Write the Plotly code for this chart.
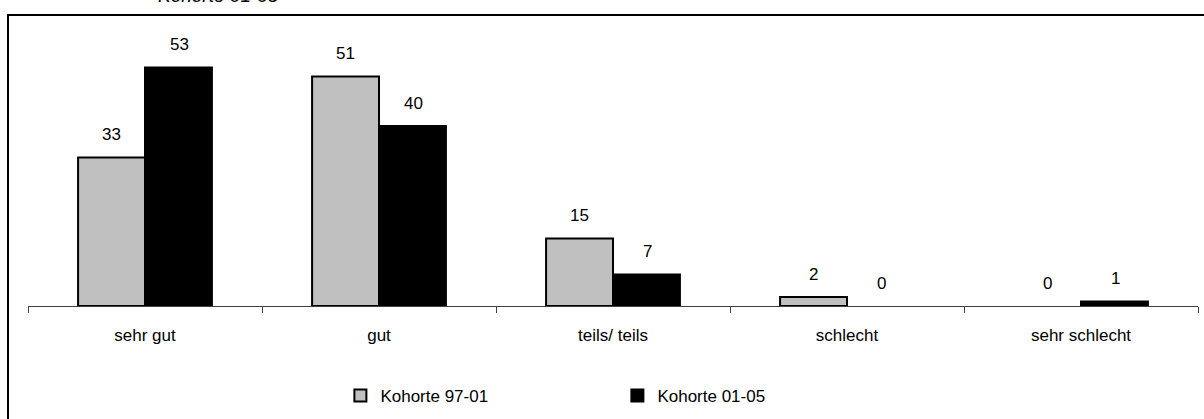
import plotly.graph_objects as go

categories = ["sehr gut", "gut", "teils/ teils", "schlecht", "sehr schlecht"]
series_names = ["Kohorte 97-01", "Kohorte 01-05"]
values_9701 = [33, 51, 15, 2, 0]
values_0105 = [53, 40, 7, 0, 1]
title_text = "Kohorte 01-05"

FONT = "Liberation Sans, Arial, sans-serif"

# plot area on screen: x 28..1198, y 36..307
fig = go.Figure()
fig.add_trace(go.Bar(
    x=categories, y=values_9701, name=series_names[0],
    marker=dict(color="#c0c0c0",
                line=dict(color="black", width=[2 if v > 0 else 0 for v in values_9701])),
))
fig.add_trace(go.Bar(
    x=categories, y=values_0105, name=series_names[1],
    marker=dict(color="black",
                line=dict(color="black", width=[2 if v > 0 else 0 for v in values_0105])),
))

annotations = []
for vals, shift in ((values_9701, -34), (values_0105, 34)):
    for c, v in zip(categories, vals):
        annotations.append(dict(
            x=c, y=v, xref="x", yref="y", text=str(v), showarrow=False,
            xshift=shift, yshift=23, yanchor="middle",
            font=dict(family=FONT, size=17, color="black"),
        ))

annotations.append(dict(
    x=(218 - 28) / 1170, y=(307 + 5) / 271, xref="paper", yref="paper",
    text="<i>" + title_text + "</i>", showarrow=False, xanchor="center", yanchor="middle",
    font=dict(family=FONT, size=19, color="black"),
))

fig.update_layout(
    width=1204, height=419,
    margin=dict(l=28, r=6, t=36, b=112),
    paper_bgcolor="white", plot_bgcolor="white",
    barmode="group", bargap=0.428, bargroupgap=0,
    font=dict(family=FONT, size=17, color="black"),
    showlegend=True,
    legend=dict(orientation="h", x=0.267, xanchor="left", y=-0.328, yanchor="middle",
                entrywidth=232, font=dict(family=FONT, size=17, color="black"),
                traceorder="normal", bgcolor="rgba(0,0,0,0)"),
    xaxis=dict(showline=True, linecolor="#404040", linewidth=1, ticks="outside",
               ticklen=6, tickcolor="#404040", tickson="boundaries",
               showgrid=False, ticklabelstandoff=14, fixedrange=True),
    yaxis=dict(range=[0, 60], visible=False, showgrid=False, zeroline=False),
    annotations=annotations,
    shapes=[dict(type="rect", xref="paper", yref="paper",
                 x0=(8 - 28) / 1170, x1=1.2, y0=-0.6, y1=(307 - 15) / 271,
                 line=dict(color="black", width=2), fillcolor="rgba(0,0,0,0)", layer="below")],
)

fig.write_html("out.html", config={"displayModeBar": False},
               post_script="document.body.style.margin='0';")
